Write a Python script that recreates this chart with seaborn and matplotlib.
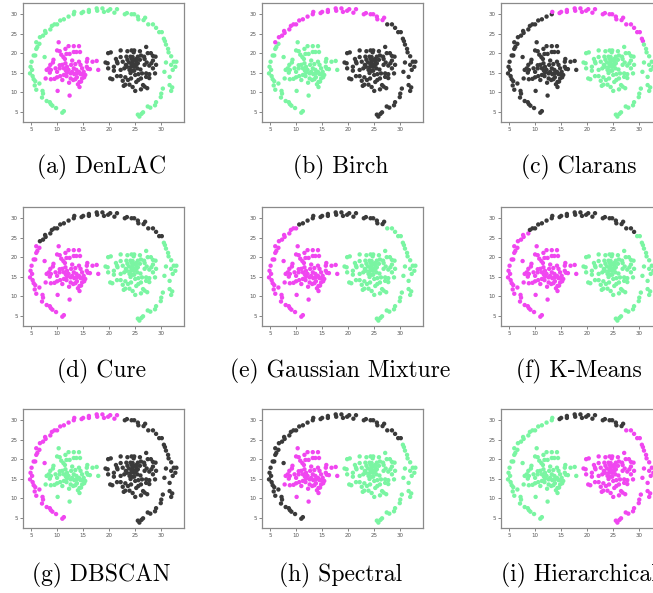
"""Grid of clustering results on the same two-blobs-and-arc dataset."""

import matplotlib
matplotlib.use("Agg")

import matplotlib.pyplot as plt
import pandas as pd
import seaborn as sns


# outer arc, ordered from its lower-left end, over the top, to its lower-right end
ARC_POINTS = [
    (11.3, 5.1), (11.0, 4.7), (9.8, 5.9), (9.1, 6.5), (8.8, 6.9), (8.6, 7.4),
    (8.0, 7.7), (7.1, 8.6), (7.3, 9.6), (7.2, 10.3), (6.0, 10.6), (5.7, 11.7),
    (6.6, 12.2), (5.8, 12.8), (5.5, 13.3), (5.3, 14.1), (4.8, 14.8), (5.2, 15.7),
    (4.9, 16.5), (5.1, 17.8), (5.5, 19.4), (5.8, 19.4), (7.6, 19.0), (6.0, 21.1),
    (6.2, 21.6), (6.6, 22.4), (6.0, 22.8), (6.7, 24.1), (7.3, 24.5), (7.8, 25.2),
    (7.7, 25.7), (8.7, 26.1), (9.0, 27.0), (9.5, 27.4), (10.0, 27.4), (10.6, 28.4),
    (11.3, 28.7), (12.2, 29.4), (13.2, 30.0), (13.3, 30.6), (14.7, 30.3), (15.0, 30.6),
    (16.1, 30.6), (16.1, 31.1), (17.6, 31.5), (17.7, 30.9), (18.7, 31.5), (19.0, 30.6),
    (19.8, 30.9), (20.2, 31.3), (21.0, 30.4), (21.5, 31.3), (23.0, 30.0), (23.4, 30.3),
    (24.3, 30.0), (24.8, 30.0), (25.5, 29.4), (25.6, 28.7), (26.6, 28.5), (26.9, 29.1),
    (27.5, 27.4), (28.4, 27.4), (29.0, 26.5), (29.6, 25.4), (30.1, 25.4), (30.5, 23.7),
    (30.7, 23.1), (30.9, 22.2), (31.3, 21.1), (31.4, 20.2), (31.9, 19.2), (32.9, 17.8),
    (32.4, 17.8), (30.9, 17.6), (31.9, 17.0), (32.7, 16.5), (32.2, 15.7), (30.6, 15.2),
    (31.6, 13.9), (31.6, 11.8), (32.1, 11.2), (31.9, 10.3), (30.3, 10.9), (30.0, 9.6),
    (29.9, 8.7), (29.0, 7.4), (28.8, 6.6), (27.9, 6.0), (27.4, 6.3), (26.5, 4.8),
    (26.2, 4.4), (25.5, 4.2), (25.8, 3.7),
]

LEFT_BLOB = [
    (10.3, 22.8), (10.0, 20.7), (10.5, 20.5), (11.6, 21.1), (12.2, 21.8), (13.2, 21.8),
    (14.2, 21.8), (13.2, 20.3), (13.7, 20.3), (14.4, 20.3), (11.8, 19.8), (12.4, 19.8),
    (10.8, 19.6), (11.2, 19.0), (11.5, 18.5), (9.3, 18.3), (9.2, 17.6), (8.7, 17.0),
    (8.4, 16.1), (8.0, 15.7), (8.8, 15.7), (9.7, 16.1), (10.0, 15.2), (10.5, 16.1),
    (11.0, 17.0), (11.6, 17.4), (11.9, 16.5), (12.2, 15.7), (12.7, 17.0), (12.9, 18.1),
    (13.2, 16.1), (13.5, 17.2), (14.2, 17.8), (14.5, 17.0), (14.8, 16.1), (15.1, 15.2),
    (15.7, 16.5), (15.7, 17.8), (15.8, 18.5), (15.4, 14.4), (14.8, 13.5), (14.3, 12.6),
    (14.0, 12.0), (14.3, 11.3), (13.5, 13.3), (13.1, 13.1), (12.6, 13.5), (12.3, 12.4),
    (11.8, 14.1), (11.3, 14.4), (10.6, 14.1), (10.0, 13.8), (9.5, 13.4), (8.8, 13.3),
    (7.8, 13.5), (8.6, 15.0), (11.7, 15.5), (13.8, 14.8), (14.5, 14.6), (13.3, 14.6),
    (12.6, 14.8), (10.1, 10.3), (12.4, 9.1), (10.5, 16.9), (16.3, 15.9), (17.9, 15.7),
    (16.8, 17.8), (17.6, 18.0), (15.9, 16.0), (14.2, 15.2), (12.9, 15.2), (11.9, 15.0),
    (11.3, 16.1), (13.7, 15.7), (14.9, 14.6), (15.2, 13.8), (14.6, 12.7), (13.8, 13.8),
    (11.0, 13.1),
]

RIGHT_BLOB = [
    (20.3, 20.2), (19.8, 20.0), (22.2, 20.7), (23.5, 20.5), (24.3, 20.7), (24.8, 20.7),
    (24.7, 20.2), (25.9, 20.5), (27.4, 20.0), (27.1, 21.6), (28.0, 20.0), (28.9, 19.1),
    (28.4, 19.3), (26.1, 19.4), (26.7, 19.1), (25.5, 19.1), (24.1, 19.1), (23.3, 19.1),
    (22.2, 19.0), (21.3, 18.5), (21.5, 17.8), (21.6, 17.4), (22.6, 17.8), (23.5, 18.3),
    (24.3, 18.5), (24.5, 17.8), (24.3, 17.2), (24.7, 17.0), (25.2, 17.8), (25.2, 17.0),
    (24.8, 16.5), (24.2, 16.5), (23.9, 15.7), (23.4, 16.5), (22.9, 16.1), (22.2, 15.7),
    (20.9, 15.5), (19.7, 17.4), (19.3, 17.6), (19.8, 16.1), (25.4, 16.1), (26.0, 15.8),
    (26.8, 17.0), (27.2, 17.6), (27.7, 16.8), (28.1, 17.4), (28.4, 16.1), (28.8, 14.8),
    (27.7, 14.6), (27.1, 14.8), (26.3, 14.8), (25.6, 14.6), (25.0, 14.4), (24.2, 13.5),
    (23.6, 13.1), (23.1, 13.8), (22.6, 12.9), (22.2, 14.1), (21.5, 14.1), (20.6, 13.3),
    (20.2, 13.5), (23.1, 11.9), (22.8, 11.6), (23.9, 11.9), (24.5, 11.3), (25.0, 10.3),
    (25.2, 12.6), (25.6, 13.1), (26.1, 13.5), (26.5, 11.8), (26.8, 11.4), (27.3, 11.0),
    (26.1, 10.7), (27.1, 13.9), (27.7, 13.6), (24.1, 14.9), (24.5, 15.5), (24.8, 15.5),
    (23.2, 17.0), (23.8, 17.6), (24.7, 18.3), (25.2, 18.5), (24.5, 19.0), (26.8, 18.5),
    (25.9, 18.3), (25.5, 17.4), (20.9, 16.5), (28.4, 18.1), (29.0, 17.0),
]

PANEL_TITLES = [
    "(a) DenLAC", "(b) Birch", "(c) Clarans",
    "(d) Cure", "(e) Gaussian Mixture", "(f) K-Means",
    "(g) DBSCAN", "(h) Spectral", "(i) Hierarchical",
]

# cluster of consecutive arc points: (cluster, number of points)
ARC_SEGMENTS = [
    [("green", 93)],
    [("green", 26), ("magenta", 34), ("dark", 33)],
    [("dark", 39), ("magenta", 28), ("green", 26)],
    [("magenta", 27), ("dark", 38), ("green", 28)],
    [("magenta", 35), ("dark", 25), ("green", 33)],
    [("magenta", 32), ("dark", 31), ("green", 30)],
    [("magenta", 52), ("dark", 41)],
    [("dark", 65), ("green", 28)],
    [("green", 40), ("dark", 20), ("magenta", 33)],
]

# cluster of (left blob, right blob)
BLOB_CLUSTERS = [
    ("magenta", "dark"), ("green", "dark"), ("dark", "green"),
    ("magenta", "green"), ("magenta", "green"), ("magenta", "green"),
    ("green", "dark"), ("magenta", "green"), ("green", "magenta"),
]

PALETTE = {"magenta": "#f046f0", "green": "#7af5a2", "dark": "#3a3a3a"}
TICKS = [5, 10, 15, 20, 25, 30]


def build_panel_dataframe(segments, blob_clusters):
    """Attach one panel's cluster labels to all points."""
    arc_labels = [name for name, count in segments for _ in range(count)]
    rows = [(x, y, lab) for (x, y), lab in zip(ARC_POINTS, arc_labels)]
    rows += [(x, y, blob_clusters[0]) for x, y in LEFT_BLOB]
    rows += [(x, y, blob_clusters[1]) for x, y in RIGHT_BLOB]
    return pd.DataFrame(rows, columns=["x", "y", "cluster"])


def main():
    sns.set_style("white")
    fig_w, fig_h = 653, 593
    fig = plt.figure(figsize=(fig_w / 100, fig_h / 100), dpi=100)

    col_left = [22.7, 261.7, 500.7]
    row_top = [3, 207, 409]
    caption_y = [167, 371, 575]
    ax_w, ax_h = 161, 119

    for idx, title in enumerate(PANEL_TITLES):
        r, c = divmod(idx, 3)
        ax = fig.add_axes([col_left[c] / fig_w, (fig_h - row_top[r] - ax_h) / fig_h,
                           ax_w / fig_w, ax_h / fig_h])
        df = build_panel_dataframe(ARC_SEGMENTS[idx], BLOB_CLUSTERS[idx])
        sns.scatterplot(data=df, x="x", y="y", hue="cluster", palette=PALETTE,
                        s=10, linewidth=0, legend=False, ax=ax)
        ax.set_xticks(TICKS)
        ax.set_yticks(TICKS)
        ax.set_xlabel("")
        ax.set_ylabel("")
        ax.tick_params(labelsize=4, length=2, width=0.5, pad=1.5,
                       colors="#555555", left=True, bottom=True)
        for spine in ax.spines.values():
            spine.set_color("#8a8a8a")
            spine.set_linewidth(0.9)

        cx = (col_left[c] + ax_w / 2 - 2) / fig_w
        fig.text(cx, 1 - caption_y[r] / fig_h, title, ha="center", va="center",
                 fontsize=17, family="cmr10", color="black")

    fig.savefig("out.png", dpi=100)
    plt.close(fig)


if __name__ == "__main__":
    main()
